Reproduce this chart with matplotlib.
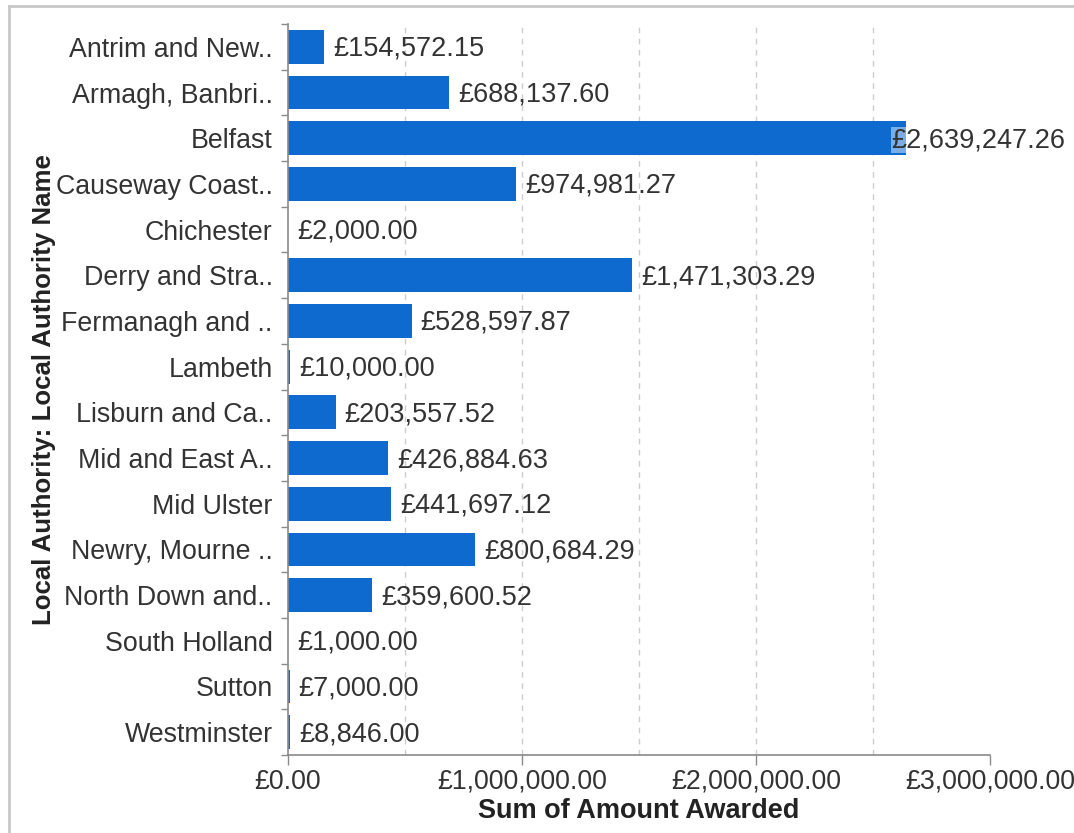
import matplotlib
matplotlib.use("Agg")
import matplotlib.pyplot as plt
from matplotlib.lines import Line2D
from matplotlib.ticker import FixedLocator, FuncFormatter
import matplotlib.transforms as mtransforms

categories = ["Antrim and New..", "Armagh, Banbri..", "Belfast", "Causeway Coast..",
              "Chichester", "Derry and Stra..", "Fermanagh and ..", "Lambeth",
              "Lisburn and Ca..", "Mid and East A..", "Mid Ulster", "Newry, Mourne ..",
              "North Down and..", "South Holland", "Sutton", "Westminster"]
amounts = [154572.15, 688137.60, 2639247.26, 974981.27, 2000.00, 1471303.29,
           528597.87, 10000.00, 203557.52, 426884.63, 441697.12, 800684.29,
           359600.52, 1000.00, 7000.00, 8846.00]
x_ticks = [0, 1000000, 2000000, 3000000]
x_grid = [500000, 1000000, 1500000, 2000000, 2500000]

plt.rcParams['font.family'] = ['Liberation Sans', 'DejaVu Sans']

BAR = '#0f6ad0'
TXT = '#333333'
SPINE = '#8a8a8a'

fig = plt.figure(figsize=(10.74, 8.33), dpi=100)
ax = fig.add_axes([288/1074, 78/833, 702/1074, 731/833])

n = len(categories)
ypos = list(range(n))
ax.barh(ypos, amounts, height=0.74, color=BAR, zorder=2)

ax.set_xlim(0, 3000000)
ax.set_ylim(n - 0.5, -0.5)

for g in x_grid:
    ax.axvline(g, color='#cccccc', lw=1, ls=(0, (4, 4)), zorder=1)

ax.xaxis.set_major_locator(FixedLocator(x_ticks))
ax.xaxis.set_major_formatter(FuncFormatter(lambda v, p: "£{:,.2f}".format(v)))
ax.set_yticks(ypos)
ax.set_yticklabels(categories)
ax.yaxis.set_minor_locator(FixedLocator([i - 0.5 for i in range(n + 1)]))

ax.tick_params(axis='y', which='major', length=0, pad=11, labelsize=19.3, labelcolor=TXT)
ax.tick_params(axis='y', which='minor', length=5, width=1, color=SPINE)
ax.tick_params(axis='x', which='major', length=7, width=1, color=SPINE, pad=3,
               labelsize=19.3, labelcolor=TXT)

for s in ['top', 'right']:
    ax.spines[s].set_visible(False)
for s in ['left', 'bottom']:
    ax.spines[s].set_color(SPINE)
    ax.spines[s].set_linewidth(1.2)

ax.set_xlabel("Sum of Amount Awarded", fontsize=19.5, fontweight='bold', color='#222222', labelpad=2)
ax.set_ylabel("Local Authority: Local Authority Name", fontsize=18.6, fontweight='bold',
              color='#222222', labelpad=0)

offset = mtransforms.offset_copy(ax.transData, fig=fig, x=9, y=-2, units='dots')
fig.canvas.draw()
renderer = fig.canvas.get_renderer()
for i, v in enumerate(amounts):
    label = "£{:,.2f}".format(v)
    t = ax.text(v, i, label, transform=offset, ha='left', va='center',
                fontsize=19.5, color=TXT, zorder=3, clip_on=False)
    bb = t.get_window_extent(renderer)
    if bb.x1 > 1068:
        t.remove()
        tr = mtransforms.blended_transform_factory(fig.transFigure, ax.transData)
        tr = mtransforms.offset_copy(tr, fig=fig, x=0, y=-2, units='dots')
        ax.text(1065/1074, i, label, transform=tr, ha='right', va='center',
                fontsize=19.5, color=TXT, zorder=3, clip_on=False,
                bbox=dict(facecolor='white', alpha=0.45, edgecolor='none', pad=0))

# light frame lines of the panel
fig.add_artist(Line2D([9/1074, 9/1074], [0, 1 - 6/833], transform=fig.transFigure,
                      color='#c8c8c8', lw=2))
fig.add_artist(Line2D([9/1074, 1], [1 - 6/833, 1 - 6/833], transform=fig.transFigure,
                      color='#c8c8c8', lw=2))

fig.savefig("out.png", dpi=100)
